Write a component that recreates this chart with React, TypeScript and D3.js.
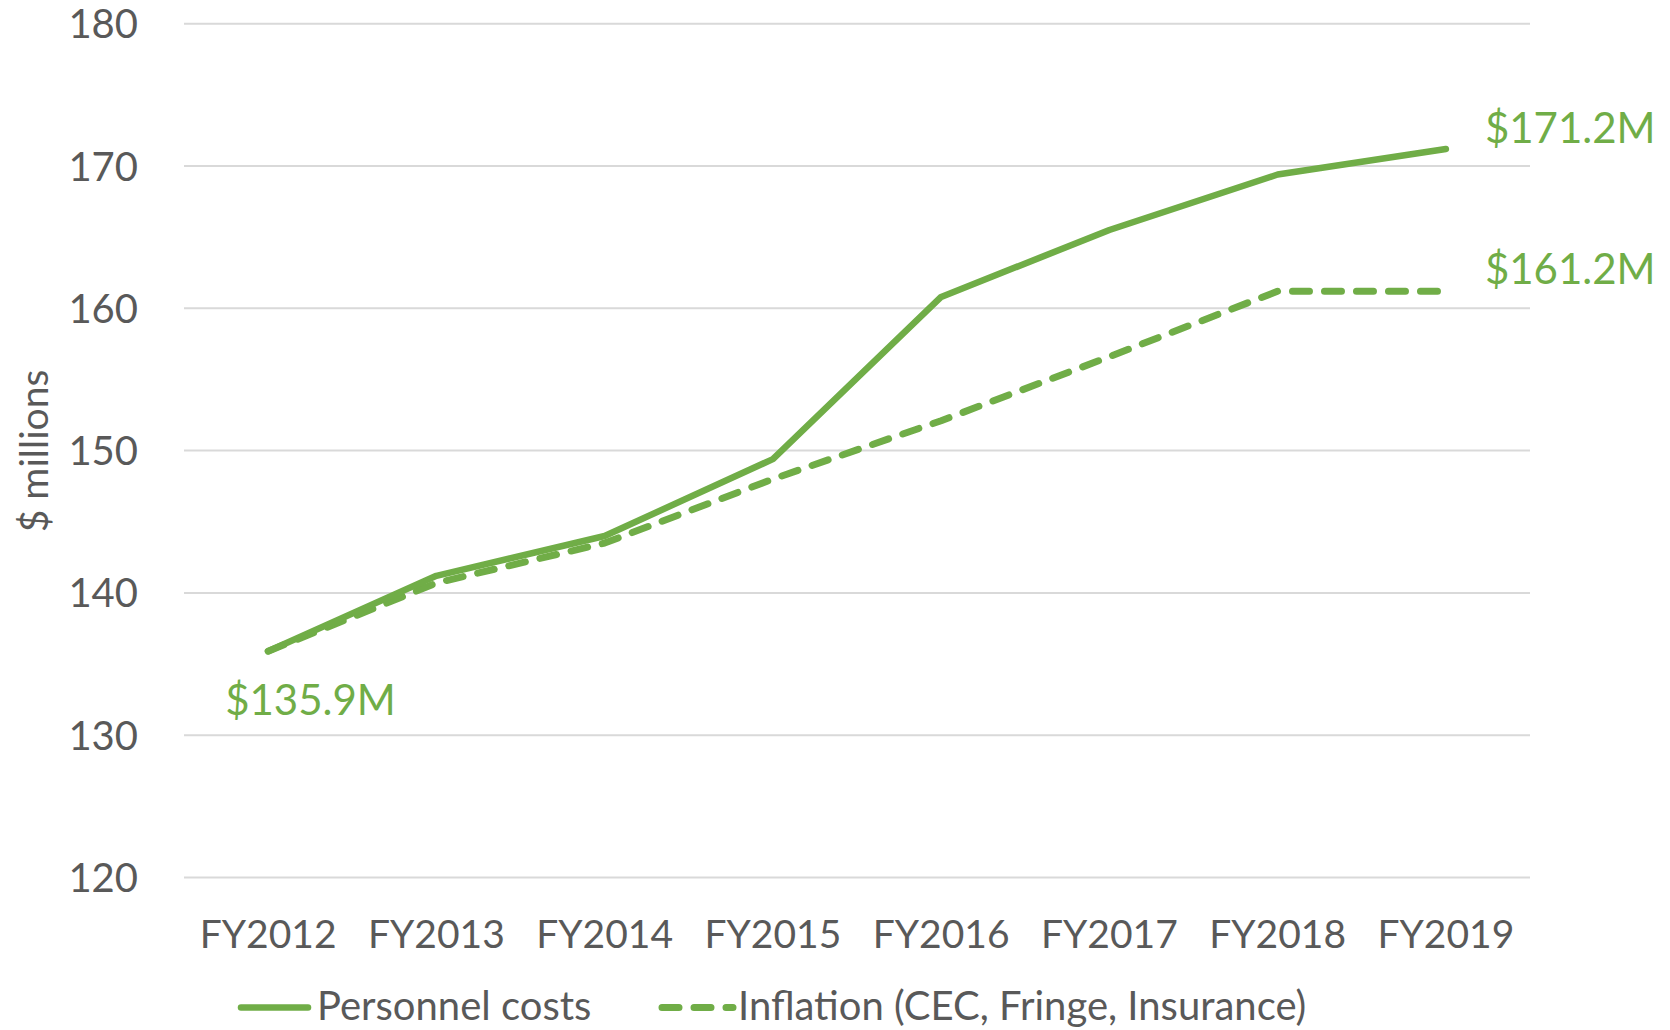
import React from "react";
import * as d3 from "d3";

const categories = ["FY2012", "FY2013", "FY2014", "FY2015", "FY2016", "FY2017", "FY2018", "FY2019"];
const personnelCosts = [135.9, 141.2, 144.0, 149.4, 160.8, 165.5, 169.4, 171.2];
const inflation = [135.9, 140.7, 143.5, 148.0, 152.1, 156.6, 161.2, 161.2];
const yTicks = [120, 130, 140, 150, 160, 170, 180];
const seriesNames = ["Personnel costs", "Inflation (CEC, Fringe, Insurance)"];

const W = 1670;
const H = 1030;
const GREEN = "#70AD47";
const GRAY = "#595959";
const FONT = "Lato, 'Open Sans', sans-serif";

export default function App() {
  const x = d3.scaleBand<string>().domain(categories).range([184, 1530]).padding(0);
  const y = d3.scaleLinear().domain([120, 180]).range([877.5, 23.7]);
  const cx = (c: string) => (x(c) as number) + x.bandwidth() / 2;

  const line = d3
    .line<number>()
    .x((_, i) => cx(categories[i]))
    .y((d) => y(d));

  const last = categories.length - 1;

  return (
    <svg
      width={W}
      height={H}
      style={{ position: "absolute", left: 0, top: 0, background: "#fff" }}
      fontFamily={FONT}
    >
      {yTicks.map((t) => (
        <g key={t}>
          <line x1={184} x2={1530} y1={y(t)} y2={y(t)} stroke="#D9D9D9" strokeWidth={2} />
          <text x={138} y={y(t) + 14.5} textAnchor="end" fontSize={40} fill={GRAY}>
            {t}
          </text>
        </g>
      ))}
      {categories.map((c) => (
        <text key={c} x={cx(c)} y={948} textAnchor="middle" fontSize={39} fill={GRAY}>
          {c}
        </text>
      ))}
      <text
        transform={`translate(48,451) rotate(-90)`}
        textAnchor="middle"
        fontSize={39}
        fill={GRAY}
      >
        $ millions
      </text>

      <path
        d={line(inflation) as string}
        fill="none"
        stroke={GREEN}
        strokeWidth={7}
        strokeDasharray="17 15"
        strokeLinecap="round"
        strokeLinejoin="round"
      />
      <path
        d={line(personnelCosts) as string}
        fill="none"
        stroke={GREEN}
        strokeWidth={6.5}
        strokeLinecap="round"
        strokeLinejoin="round"
      />

      <text x={cx(categories[last]) + 39} y={y(personnelCosts[last]) - 6} fontSize={42} fill={GREEN}>
        ${personnelCosts[last].toFixed(1)}M
      </text>
      <text x={cx(categories[last]) + 39} y={y(inflation[last]) - 7} fontSize={42} fill={GREEN}>
        ${inflation[last].toFixed(1)}M
      </text>
      <text x={cx(categories[0]) - 43} y={y(personnelCosts[0]) + 64} fontSize={42} fill={GREEN}>
        ${personnelCosts[0].toFixed(1)}M
      </text>

      <g>
        <line x1={241} x2={308} y1={1007.5} y2={1007.5} stroke={GREEN} strokeWidth={6.5} strokeLinecap="round" />
        <text x={317} y={1020} fontSize={40} fill={GRAY}>
          {seriesNames[0]}
        </text>
        <line
          x1={662}
          x2={733}
          y1={1007.5}
          y2={1007.5}
          stroke={GREEN}
          strokeWidth={7}
          strokeDasharray="17 15"
          strokeLinecap="round"
        />
        <text x={738} y={1020} fontSize={40} fill={GRAY}>
          {seriesNames[1]}
        </text>
      </g>
    </svg>
  );
}
